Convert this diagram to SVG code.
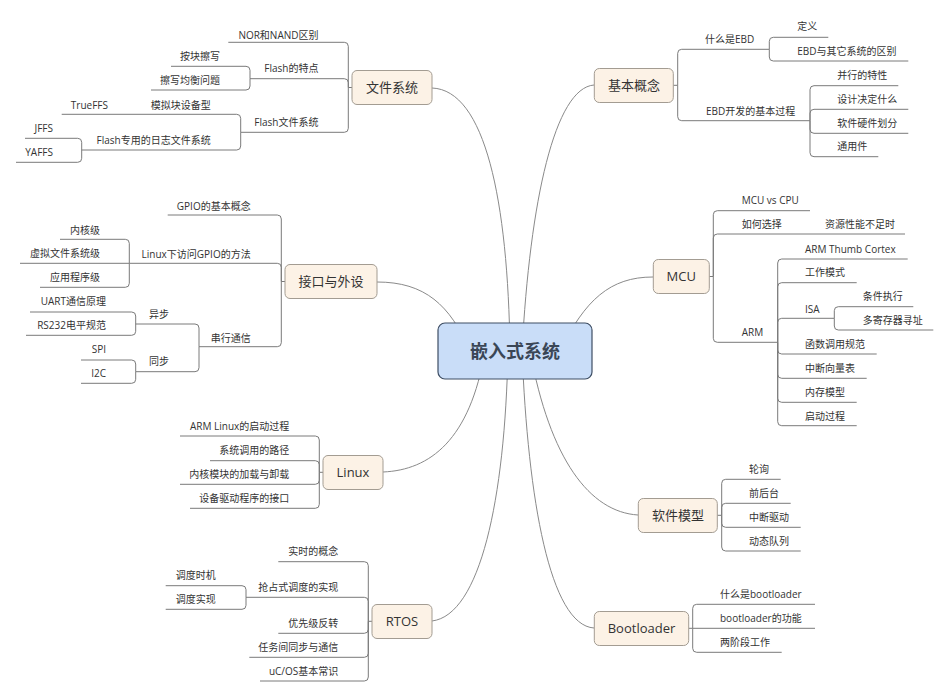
<svg xmlns="http://www.w3.org/2000/svg" width="950" height="697" viewBox="0 0 950 697">
<style>
text{font-family:"Open Sans","Noto Sans CJK SC",sans-serif;fill:#333}
.l{font-size:10px}
.e{text-anchor:end}
.b{font-size:13px;text-anchor:middle}
.c{font-size:18px;font-weight:bold;text-anchor:middle;fill:#3a4656}
.br{fill:#fcf2e6;stroke:#a39c92;stroke-width:1}
.ln{fill:none;stroke:#7a7a7a;stroke-width:1}
.mc{fill:none;stroke:#8a8a8a;stroke-width:1}
</style>
<rect width="950" height="697" fill="#fff"/>
<g id="connectors">
<path class="mc" d="M432,88 C485,90 508,200 510,351"/>
<path class="mc" d="M377,282 C425,282 450,305 470,351"/>
<path class="mc" d="M383,472 C430,470 470,440 485,351"/>
<path class="mc" d="M432,621 C480,615 505,500 508,351"/>
<path class="mc" d="M594,85 C555,88 530,200 522,351"/>
<path class="mc" d="M653,277 C610,277 585,300 560,351"/>
<path class="mc" d="M638,515 C590,512 550,460 530,351"/>
<path class="mc" d="M594,628 C550,625 528,500 522,351"/>
<!-- 文件系统 -->
<path class="ln" d="M352,87.5 H348.3"/>
<path class="ln" d="M348.3,87.5 V46.3 Q348.3,42.3 344.3,42.3 H228.3"/>
<path class="ln" d="M348.3,87.5 V82.7 Q348.3,78.7 344.3,78.7 H250"/>
<path class="ln" d="M348.3,87.5 V128.3 Q348.3,132.3 344.3,132.3 H240.7"/>
<path class="ln" d="M250,78.7 V70.3 Q250,66.3 246,66.3 H171"/>
<path class="ln" d="M250,78.7 V86 Q250,90 246,90 H151"/>
<path class="ln" d="M240.7,132.3 V118.3 Q240.7,114.3 236.7,114.3 H61.7"/>
<path class="ln" d="M240.7,132.3 V146 Q240.7,150 236.7,150 H81.7"/>
<path class="ln" d="M81.7,150 V142.3 Q81.7,138.3 77.7,138.3 H25"/>
<path class="ln" d="M81.7,150 V158.3 Q81.7,162.3 77.7,162.3 H16"/>
<!-- 接口与外设 -->
<path class="ln" d="M285,281.5 H281.3"/>
<path class="ln" d="M281.3,281.5 V219 Q281.3,215 277.3,215 H167.7"/>
<path class="ln" d="M281.3,281.5 V267.3 Q281.3,263.3 277.3,263.3 H129.3"/>
<path class="ln" d="M281.3,281.5 V342.7 Q281.3,346.7 277.3,346.7 H199"/>
<path class="ln" d="M129.3,263.3 V243.3 Q129.3,239.3 125.3,239.3 H60"/>
<path class="ln" d="M129.3,263.3 H20"/>
<path class="ln" d="M129.3,263.3 V283.3 Q129.3,287.3 125.3,287.3 H40"/>
<path class="ln" d="M199,346.7 V328 Q199,324 195,324 H135.7"/>
<path class="ln" d="M199,346.7 V367.7 Q199,371.7 195,371.7 H135.7"/>
<path class="ln" d="M135.7,324 V316 Q135.7,312 131.7,312 H30"/>
<path class="ln" d="M135.7,324 V331.3 Q135.7,335.3 131.7,335.3 H26"/>
<path class="ln" d="M135.7,371.7 V364 Q135.7,360 131.7,360 H81"/>
<path class="ln" d="M135.7,371.7 V379.3 Q135.7,383.3 131.7,383.3 H81"/>
<!-- Linux -->
<path class="ln" d="M323,472.3 H319.3"/>
<path class="ln" d="M319.3,472.3 V440 Q319.3,436 315.3,436 H180"/>
<path class="ln" d="M319.3,472.3 V464.7 Q319.3,460.7 315.3,460.7 H210"/>
<path class="ln" d="M319.3,472.3 V480.3 Q319.3,484.3 315.3,484.3 H180"/>
<path class="ln" d="M319.3,472.3 V504.3 Q319.3,508.3 315.3,508.3 H190"/>
<!-- RTOS -->
<path class="ln" d="M372,621.3 H368.3"/>
<path class="ln" d="M368.3,621.3 V565.7 Q368.3,561.7 364.3,561.7 H278.3"/>
<path class="ln" d="M368.3,621.3 V601.3 Q368.3,597.3 364.3,597.3 H246"/>
<path class="ln" d="M368.3,621.3 V629.3 Q368.3,633.3 364.3,633.3 H278.3"/>
<path class="ln" d="M368.3,621.3 V653.3 Q368.3,657.3 364.3,657.3 H249.3"/>
<path class="ln" d="M368.3,621.3 V677 Q368.3,681 364.3,681 H260"/>
<path class="ln" d="M246,597.3 V589.7 Q246,585.7 242,585.7 H165.7"/>
<path class="ln" d="M246,597.3 V605.3 Q246,609.3 242,609.3 H165.7"/>
<!-- 基本概念 -->
<path class="ln" d="M673.3,85.3 H677.7"/>
<path class="ln" d="M677.7,85.3 V53.3 Q677.7,49.3 681.7,49.3 H769.3"/>
<path class="ln" d="M677.7,85.3 V116.7 Q677.7,120.7 681.7,120.7 H810"/>
<path class="ln" d="M769.3,49.3 V41.3 Q769.3,37.3 773.3,37.3 H828.3"/>
<path class="ln" d="M769.3,49.3 V57 Q769.3,61 773.3,61 H908.3"/>
<path class="ln" d="M810,120.7 V89.7 Q810,85.7 814,85.7 H898.3"/>
<path class="ln" d="M810,120.7 V113.3 Q810,109.3 814,109.3 H908.3"/>
<path class="ln" d="M810,120.7 V129.3 Q810,133.3 814,133.3 H908.3"/>
<path class="ln" d="M810,120.7 V152.7 Q810,156.7 814,156.7 H878.3"/>
<!-- MCU -->
<path class="ln" d="M709.3,276.5 H713.3"/>
<path class="ln" d="M713.3,276.5 V214.7 Q713.3,210.7 717.3,210.7 H810"/>
<path class="ln" d="M713.3,276.5 V238 Q713.3,234 717.3,234 H905"/>
<path class="ln" d="M713.3,276.5 V338.3 Q713.3,342.3 717.3,342.3 H777.7"/>
<path class="ln" d="M777.7,342.3 V263 Q777.7,259 781.7,259 H907.7"/>
<path class="ln" d="M777.7,342.3 V286.7 Q777.7,282.7 781.7,282.7 H856.7"/>
<path class="ln" d="M777.7,342.3 V322.3 Q777.7,318.3 781.7,318.3 H834.3"/>
<path class="ln" d="M777.7,342.3 V350 Q777.7,354 781.7,354 H876.7"/>
<path class="ln" d="M777.7,342.3 V374.3 Q777.7,378.3 781.7,378.3 H866.7"/>
<path class="ln" d="M777.7,342.3 V398.3 Q777.7,402.3 781.7,402.3 H856.7"/>
<path class="ln" d="M777.7,342.3 V421.7 Q777.7,425.7 781.7,425.7 H856.7"/>
<path class="ln" d="M834.3,318.3 V310.7 Q834.3,306.7 838.3,306.7 H913.3"/>
<path class="ln" d="M834.3,318.3 V326 Q834.3,330 838.3,330 H933.3"/>
<!-- 软件模型 -->
<path class="ln" d="M717.3,515.3 H721.7"/>
<path class="ln" d="M721.7,515.3 V483.3 Q721.7,479.3 725.7,479.3 H780.7"/>
<path class="ln" d="M721.7,515.3 V507.3 Q721.7,503.3 725.7,503.3 H790.7"/>
<path class="ln" d="M721.7,515.3 V523.3 Q721.7,527.3 725.7,527.3 H800.7"/>
<path class="ln" d="M721.7,515.3 V547 Q721.7,551 725.7,551 H800.7"/>
<!-- Bootloader -->
<path class="ln" d="M688.7,628.3 H692.7"/>
<path class="ln" d="M692.7,628.3 V608.3 Q692.7,604.3 696.7,604.3 H815"/>
<path class="ln" d="M692.7,628.3 H815"/>
<path class="ln" d="M692.7,628.3 V648.3 Q692.7,652.3 696.7,652.3 H781.7"/>
</g>
<g id="center">
<rect x="438" y="323" width="154" height="56" rx="7" fill="#c9ddf8" stroke="#3e4e64" stroke-width="1.2"/>
<text class="c" x="515" y="358">嵌入式系统</text>
</g>
<g id="wenjian">
<rect class="br" x="352" y="70.5" width="80" height="34" rx="5"/>
<text class="b" x="392" y="92">文件系统</text>
<text class="l e" x="318.5" y="39.2">NOR和NAND区别</text>
<text class="l e" x="318.5" y="71.5">Flash的特点</text>
<text class="l e" x="318.5" y="125.8">Flash文件系统</text>
<text class="l e" x="220" y="60.2">按块擦写</text>
<text class="l e" x="220" y="83.5">擦写均衡问题</text>
<text class="l e" x="210.7" y="108.5">模拟块设备型</text>
<text class="l e" x="108" y="108.5">TrueFFS</text>
<text class="l e" x="210.7" y="143.5">Flash专用的日志文件系统</text>
<text class="l e" x="53" y="131.8">JFFS</text>
<text class="l e" x="53" y="155.8">YAFFS</text>
</g>
<g id="jiekou">
<rect class="br" x="285" y="264.5" width="92" height="34" rx="5"/>
<text class="b" x="331" y="286">接口与外设</text>
<text class="l e" x="250.7" y="209.5">GPIO的基本概念</text>
<text class="l e" x="250.7" y="257.5">Linux下访问GPIO的方法</text>
<text class="l e" x="250.7" y="341.8">串行通信</text>
<text class="l e" x="100" y="233.5">内核级</text>
<text class="l e" x="100" y="256.8">虚拟文件系统级</text>
<text class="l e" x="100" y="281.2">应用程序级</text>
<text class="l e" x="169" y="317.8">异步</text>
<text class="l e" x="169" y="365.2">同步</text>
<text class="l e" x="106" y="305.2">UART通信原理</text>
<text class="l e" x="106" y="329.2">RS232电平规范</text>
<text class="l e" x="106" y="352.8">SPI</text>
<text class="l e" x="106" y="376.8">I2C</text>
</g>
<g id="linux">
<rect class="br" x="323" y="455.5" width="60" height="34" rx="5"/>
<text class="b" x="353" y="477">Linux</text>
<text class="l e" x="289.3" y="429.5">ARM Linux的启动过程</text>
<text class="l e" x="289.3" y="453.5">系统调用的路径</text>
<text class="l e" x="289.3" y="477.5">内核模块的加载与卸载</text>
<text class="l e" x="289.3" y="502.2">设备驱动程序的接口</text>
</g>
<g id="rtos">
<rect class="br" x="372" y="604.5" width="60" height="34" rx="5"/>
<text class="b" x="402" y="626">RTOS</text>
<text class="l e" x="338.3" y="554.5">实时的概念</text>
<text class="l e" x="338.3" y="590.8">抢占式调度的实现</text>
<text class="l e" x="338.3" y="626.8">优先级反转</text>
<text class="l e" x="338.3" y="650.8">任务间同步与通信</text>
<text class="l e" x="338.3" y="674.8">uC/OS基本常识</text>
<text class="l e" x="215.7" y="578.5">调度时机</text>
<text class="l e" x="215.7" y="602.5">调度实现</text>
</g>
<g id="jiben">
<rect class="br" x="594.3" y="68.5" width="79" height="34" rx="5"/>
<text class="b" x="634" y="90">基本概念</text>
<text class="l" x="705" y="42.8">什么是EBD</text>
<text class="l" x="706" y="114.5">EBD开发的基本过程</text>
<text class="l" x="797.3" y="30.2">定义</text>
<text class="l" x="797.3" y="55.2">EBD与其它系统的区别</text>
<text class="l" x="837.3" y="79.2">并行的特性</text>
<text class="l" x="837.3" y="102.8">设计决定什么</text>
<text class="l" x="837.3" y="126.8">软件硬件划分</text>
<text class="l" x="837.3" y="150.2">通用件</text>
</g>
<g id="mcu">
<rect class="br" x="653.3" y="259.5" width="56" height="34" rx="5"/>
<text class="b" x="681.3" y="281">MCU</text>
<text class="l" x="741.7" y="204.2">MCU vs CPU</text>
<text class="l" x="741.7" y="227.8">如何选择</text>
<text class="l" x="825" y="227.8">资源性能不足时</text>
<text class="l" x="741.7" y="336.2">ARM</text>
<text class="l" x="805" y="252.5">ARM Thumb Cortex</text>
<text class="l" x="805" y="276.2">工作模式</text>
<text class="l" x="805" y="312.5">ISA</text>
<text class="l" x="862.7" y="300.2">条件执行</text>
<text class="l" x="862.7" y="324.2">多寄存器寻址</text>
<text class="l" x="805" y="347.5">函数调用规范</text>
<text class="l" x="805" y="371.8">中断向量表</text>
<text class="l" x="805" y="395.8">内存模型</text>
<text class="l" x="805" y="420.2">启动过程</text>
</g>
<g id="ruanjian">
<rect class="br" x="638.3" y="498.5" width="79" height="34" rx="5"/>
<text class="b" x="678" y="520">软件模型</text>
<text class="l" x="749" y="472.8">轮询</text>
<text class="l" x="749" y="496.8">前后台</text>
<text class="l" x="749" y="520.8">中断驱动</text>
<text class="l" x="749" y="544.5">动态队列</text>
</g>
<g id="bootloader">
<rect class="br" x="594.3" y="611.5" width="94.4" height="34" rx="5"/>
<text class="b" x="641.5" y="633">Bootloader</text>
<text class="l" x="720" y="597.5">什么是bootloader</text>
<text class="l" x="720" y="621.8">bootloader的功能</text>
<text class="l" x="720" y="645.8">两阶段工作</text>
</g>
</svg>
